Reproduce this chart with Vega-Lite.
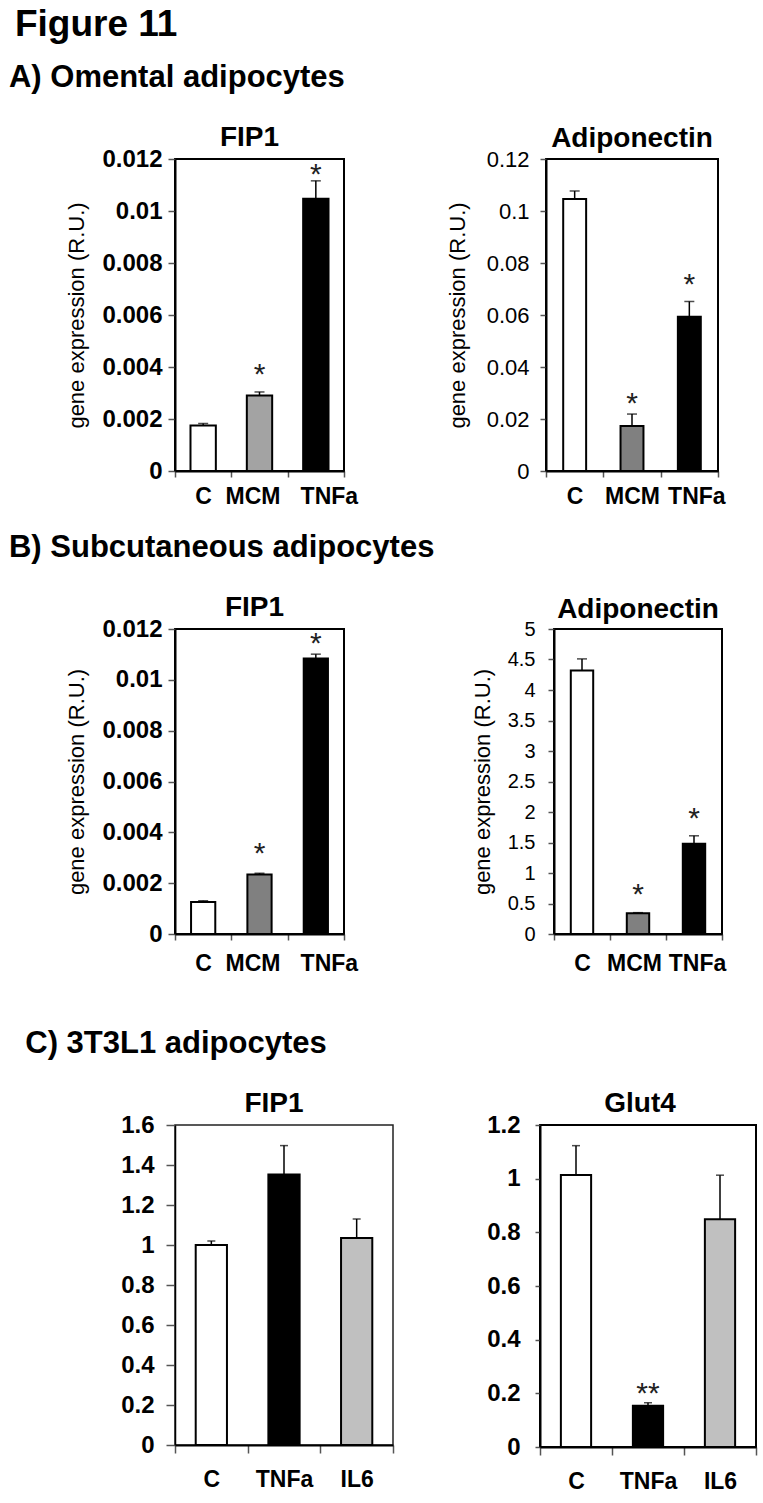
{
  "$schema": "https://vega.github.io/schema/vega-lite/v6.json",
  "padding": {"left": 8, "top": 6, "right": 4, "bottom": 2},
  "background": "white",
  "config": {
    "font": "Liberation Sans",
    "view": {"stroke": "black", "strokeWidth": 2},
    "axis": {"grid": false, "labelOverlap": false, "labelColor": "black", "titleColor": "black", "labelFont": "Liberation Sans", "titleFont": "Liberation Sans", "domainColor": "black", "domainWidth": 2, "tickColor": "#555", "tickWidth": 1.5},
    "axisQuantitative": {"labelOverlap": false},
    "axisX": {"labelAngle": 0, "tickBand": "extent", "labelFontSize": 23, "labelFontWeight": "bold", "tickSize": 6, "labelPadding": 8},
    "axisY": {"titleFontWeight": "normal", "titleFontSize": 22, "labelFontSize": 24, "labelOverlap": false}
  },
  "title": {"text": "Figure 11", "anchor": "start", "dx": 6, "fontSize": 37, "fontWeight": "bold", "offset": 18, "color": "black", "font": "Liberation Sans"},
  "datasets": {
    "a1": [
      {"group": "C", "value": 0.00175, "upper": 0.00183},
      {"group": "MCM", "value": 0.0029, "upper": 0.00304, "sig": "*", "star": 0.004},
      {"group": "TNFa", "value": 0.01047, "upper": 0.01116, "sig": "*", "star": 0.0117}
    ],
    "a2": [
      {"group": "C", "value": 0.1046, "upper": 0.1077},
      {"group": "MCM", "value": 0.0173, "upper": 0.0219, "sig": "*", "star": 0.029},
      {"group": "TNFa", "value": 0.0593, "upper": 0.0652, "sig": "*", "star": 0.0747}
    ],
    "b1": [
      {"group": "C", "value": 0.00126, "upper": 0.00131},
      {"group": "MCM", "value": 0.00234, "upper": 0.00239, "sig": "*", "star": 0.00348},
      {"group": "TNFa", "value": 0.01084, "upper": 0.01101, "sig": "*", "star": 0.01171}
    ],
    "b2": [
      {"group": "C", "value": 4.32, "upper": 4.51},
      {"group": "MCM", "value": 0.34, "upper": 0.35, "sig": "*", "star": 0.77},
      {"group": "TNFa", "value": 1.48, "upper": 1.61, "sig": "*", "star": 2.02}
    ],
    "c1": [
      {"group": "C", "value": 1.0, "upper": 1.02},
      {"group": "TNFa", "value": 1.352, "upper": 1.497},
      {"group": "IL6", "value": 1.035, "upper": 1.13}
    ],
    "c2": [
      {"group": "C", "value": 1.014, "upper": 1.123},
      {"group": "TNFa", "value": 0.154, "upper": 0.165, "sig": "**", "star": 0.227},
      {"group": "IL6", "value": 0.849, "upper": 1.013}
    ]
  },
  "resolve": {"scale": {"fill": "independent", "x": "independent", "y": "independent"}},
  "spacing": 52,
  "vconcat": [
    {
      "spacing": 23,
      "resolve": {"scale": {"fill": "independent", "x": "independent", "y": "independent"}},
      "vconcat": [
        {
          "title": {"text": "A) Omental adipocytes", "anchor": "start", "dx": -56, "fontSize": 31, "fontWeight": "bold", "offset": 29, "color": "black", "font": "Liberation Sans"},
          "spacing": 86,
          "resolve": {"scale": {"fill": "independent", "x": "independent", "y": "independent"}},
          "hconcat": [
            {
              "width": 169, "height": 312,
              "title": {"text": "FIP1", "fontSize": 28, "fontWeight": "bold", "offset": -5, "dx": -10, "color": "black"},
              "data": {"name": "a1"},
              "encoding": {"x": {"field": "group", "type": "nominal", "sort": null, "title": null, "scale": {"paddingInner": 0, "paddingOuter": 0},
                "axis": {"labelOffset": {"condition": [{"test": "datum.label == 'MCM'", "value": -7}, {"test": "datum.label == 'TNFa'", "value": 13}], "value": 0}}}},
              "layer": [
                {"mark": {"type": "bar", "width": {"band": 0.45}, "stroke": "black", "strokeWidth": 2},
                 "encoding": {
                   "y": {"field": "value", "type": "quantitative", "scale": {"domain": [0, 0.012], "nice": false}, "title": "gene expression (R.U.)",
                         "axis": {"values": [0, 0.002, 0.004, 0.006, 0.008, 0.01, 0.012], "format": ".3~f", "labelOverlap": false, "labelFontWeight": "bold", "tickSize": 7, "labelPadding": 6, "titlePadding": 13}},
                   "fill": {"field": "group", "type": "nominal", "legend": null, "scale": {"domain": ["C", "MCM", "TNFa"], "range": ["#ffffff", "#a3a3a3", "#000000"]}}}},
                {"mark": {"type": "rule", "color": "black", "strokeWidth": 1.5},
                 "encoding": {"y": {"field": "value", "type": "quantitative", "title": "gene expression (R.U.)", "axis": {"values": [0, 0.002, 0.004, 0.006, 0.008, 0.01, 0.012], "format": ".3~f", "labelOverlap": false, "labelFontWeight": "bold", "tickSize": 7, "labelPadding": 6, "titlePadding": 13}}, "y2": {"field": "upper"}}},
                {"mark": {"type": "tick", "color": "black", "size": 10, "thickness": 1.5},
                 "encoding": {"y": {"field": "upper", "type": "quantitative", "title": "gene expression (R.U.)", "axis": {"values": [0, 0.002, 0.004, 0.006, 0.008, 0.01, 0.012], "format": ".3~f", "labelOverlap": false, "labelFontWeight": "bold", "tickSize": 7, "labelPadding": 6, "titlePadding": 13}}}},
                {"transform": [{"filter": "isValid(datum.sig)"}],
                 "mark": {"type": "text", "fontSize": 30, "color": "#222", "baseline": "middle", "dy": 8},
                 "encoding": {"y": {"field": "star", "type": "quantitative", "title": "gene expression (R.U.)", "axis": {"values": [0, 0.002, 0.004, 0.006, 0.008, 0.01, 0.012], "format": ".3~f", "labelOverlap": false, "labelFontWeight": "bold", "tickSize": 7, "labelPadding": 6, "titlePadding": 13}}, "text": {"field": "sig"}}}
              ]
            },
            {
              "width": 172, "height": 312,
              "title": {"text": "Adiponectin", "fontSize": 28, "fontWeight": "bold", "offset": -5, "color": "black"},
              "data": {"name": "a2"},
              "encoding": {"x": {"field": "group", "type": "nominal", "sort": null, "title": null, "scale": {"paddingInner": 0, "paddingOuter": 0},
                "axis": {"labelOffset": {"condition": {"test": "datum.label == 'TNFa'", "value": 7}, "value": 0}}}},
              "layer": [
                {"mark": {"type": "bar", "width": {"band": 0.4}, "stroke": "black", "strokeWidth": 2},
                 "encoding": {
                   "y": {"field": "value", "type": "quantitative", "scale": {"domain": [0, 0.12], "nice": false}, "title": "gene expression (R.U.)",
                         "axis": {"values": [0, 0.02, 0.04, 0.06, 0.08, 0.1, 0.12], "format": ".2~f", "labelOverlap": false, "labelFontWeight": "normal", "labelFontSize": 22, "tickSize": 6, "labelPadding": 11, "titlePadding": 17}},
                   "fill": {"field": "group", "type": "nominal", "legend": null, "scale": {"domain": ["C", "MCM", "TNFa"], "range": ["#ffffff", "#808080", "#000000"]}}}},
                {"mark": {"type": "rule", "color": "black", "strokeWidth": 1.5},
                 "encoding": {"y": {"field": "value", "type": "quantitative", "title": "gene expression (R.U.)", "axis": {"values": [0, 0.02, 0.04, 0.06, 0.08, 0.1, 0.12], "format": ".2~f", "labelOverlap": false, "labelFontWeight": "normal", "labelFontSize": 22, "tickSize": 6, "labelPadding": 11, "titlePadding": 17}}, "y2": {"field": "upper"}}},
                {"mark": {"type": "tick", "color": "black", "size": 10, "thickness": 1.5},
                 "encoding": {"y": {"field": "upper", "type": "quantitative", "title": "gene expression (R.U.)", "axis": {"values": [0, 0.02, 0.04, 0.06, 0.08, 0.1, 0.12], "format": ".2~f", "labelOverlap": false, "labelFontWeight": "normal", "labelFontSize": 22, "tickSize": 6, "labelPadding": 11, "titlePadding": 17}}}},
                {"transform": [{"filter": "isValid(datum.sig)"}],
                 "mark": {"type": "text", "fontSize": 30, "color": "#222", "baseline": "middle", "dy": 8},
                 "encoding": {"y": {"field": "star", "type": "quantitative", "title": "gene expression (R.U.)", "axis": {"values": [0, 0.02, 0.04, 0.06, 0.08, 0.1, 0.12], "format": ".2~f", "labelOverlap": false, "labelFontWeight": "normal", "labelFontSize": 22, "tickSize": 6, "labelPadding": 11, "titlePadding": 17}}, "text": {"field": "sig"}}}
              ]
            }
          ]
        },
        {
          "title": {"text": "B) Subcutaneous adipocytes", "anchor": "start", "dx": -56, "fontSize": 31, "fontWeight": "bold", "offset": 29, "color": "black", "font": "Liberation Sans"},
          "spacing": 111,
          "resolve": {"scale": {"fill": "independent", "x": "independent", "y": "independent"}},
          "hconcat": [
            {
              "width": 169, "height": 305,
              "title": {"text": "FIP1", "fontSize": 28, "fontWeight": "bold", "offset": -5, "dx": -5, "color": "black"},
              "data": {"name": "b1"},
              "encoding": {"x": {"field": "group", "type": "nominal", "sort": null, "title": null, "scale": {"paddingInner": 0, "paddingOuter": 0},
                "axis": {"labelPadding": 12, "labelOffset": {"condition": [{"test": "datum.label == 'MCM'", "value": -7}, {"test": "datum.label == 'TNFa'", "value": 13}], "value": 0}}}},
              "layer": [
                {"mark": {"type": "bar", "width": {"band": 0.43}, "stroke": "black", "strokeWidth": 2},
                 "encoding": {
                   "y": {"field": "value", "type": "quantitative", "scale": {"domain": [0, 0.012], "nice": false}, "title": "gene expression (R.U.)",
                         "axis": {"values": [0, 0.002, 0.004, 0.006, 0.008, 0.01, 0.012], "format": ".3~f", "labelOverlap": false, "labelFontWeight": "bold", "tickSize": 7, "labelPadding": 6, "titlePadding": 13}},
                   "fill": {"field": "group", "type": "nominal", "legend": null, "scale": {"domain": ["C", "MCM", "TNFa"], "range": ["#ffffff", "#808080", "#000000"]}}}},
                {"mark": {"type": "rule", "color": "black", "strokeWidth": 1.5},
                 "encoding": {"y": {"field": "value", "type": "quantitative", "title": "gene expression (R.U.)", "axis": {"values": [0, 0.002, 0.004, 0.006, 0.008, 0.01, 0.012], "format": ".3~f", "labelOverlap": false, "labelFontWeight": "bold", "tickSize": 7, "labelPadding": 6, "titlePadding": 13}}, "y2": {"field": "upper"}}},
                {"mark": {"type": "tick", "color": "black", "size": 10, "thickness": 1.5},
                 "encoding": {"y": {"field": "upper", "type": "quantitative", "title": "gene expression (R.U.)", "axis": {"values": [0, 0.002, 0.004, 0.006, 0.008, 0.01, 0.012], "format": ".3~f", "labelOverlap": false, "labelFontWeight": "bold", "tickSize": 7, "labelPadding": 6, "titlePadding": 13}}}},
                {"transform": [{"filter": "isValid(datum.sig)"}],
                 "mark": {"type": "text", "fontSize": 30, "color": "#222", "baseline": "middle", "dy": 8},
                 "encoding": {"y": {"field": "star", "type": "quantitative", "title": "gene expression (R.U.)", "axis": {"values": [0, 0.002, 0.004, 0.006, 0.008, 0.01, 0.012], "format": ".3~f", "labelOverlap": false, "labelFontWeight": "bold", "tickSize": 7, "labelPadding": 6, "titlePadding": 13}}, "text": {"field": "sig"}}}
              ]
            },
            {
              "width": 168, "height": 305,
              "title": {"text": "Adiponectin", "fontSize": 28, "fontWeight": "bold", "offset": -5, "color": "black"},
              "data": {"name": "b2"},
              "encoding": {"x": {"field": "group", "type": "nominal", "sort": null, "title": null, "scale": {"paddingInner": 0, "paddingOuter": 0},
                "axis": {"labelPadding": 12, "labelOffset": {"condition": [{"test": "datum.label == 'MCM'", "value": -4}, {"test": "datum.label == 'TNFa'", "value": 3}], "value": 0}}}},
              "layer": [
                {"mark": {"type": "bar", "width": {"band": 0.4}, "stroke": "black", "strokeWidth": 2},
                 "encoding": {
                   "y": {"field": "value", "type": "quantitative", "scale": {"domain": [0, 5], "nice": false}, "title": "gene expression (R.U.)",
                         "axis": {"values": [0, 0.5, 1, 1.5, 2, 2.5, 3, 3.5, 4, 4.5, 5], "format": ".1~f", "labelOverlap": false, "labelFontWeight": "normal", "labelFontSize": 20, "tickSize": 6, "labelPadding": 13, "titlePadding": 13}},
                   "fill": {"field": "group", "type": "nominal", "legend": null, "scale": {"domain": ["C", "MCM", "TNFa"], "range": ["#ffffff", "#808080", "#000000"]}}}},
                {"mark": {"type": "rule", "color": "black", "strokeWidth": 1.5},
                 "encoding": {"y": {"field": "value", "type": "quantitative", "title": "gene expression (R.U.)", "axis": {"values": [0, 0.5, 1, 1.5, 2, 2.5, 3, 3.5, 4, 4.5, 5], "format": ".1~f", "labelOverlap": false, "labelFontWeight": "normal", "labelFontSize": 20, "tickSize": 6, "labelPadding": 13, "titlePadding": 13}}, "y2": {"field": "upper"}}},
                {"mark": {"type": "tick", "color": "black", "size": 10, "thickness": 1.5},
                 "encoding": {"y": {"field": "upper", "type": "quantitative", "title": "gene expression (R.U.)", "axis": {"values": [0, 0.5, 1, 1.5, 2, 2.5, 3, 3.5, 4, 4.5, 5], "format": ".1~f", "labelOverlap": false, "labelFontWeight": "normal", "labelFontSize": 20, "tickSize": 6, "labelPadding": 13, "titlePadding": 13}}}},
                {"transform": [{"filter": "isValid(datum.sig)"}],
                 "mark": {"type": "text", "fontSize": 30, "color": "#222", "baseline": "middle", "dy": 8},
                 "encoding": {"y": {"field": "star", "type": "quantitative", "title": "gene expression (R.U.)", "axis": {"values": [0, 0.5, 1, 1.5, 2, 2.5, 3, 3.5, 4, 4.5, 5], "format": ".1~f", "labelOverlap": false, "labelFontWeight": "normal", "labelFontSize": 20, "tickSize": 6, "labelPadding": 13, "titlePadding": 13}}, "text": {"field": "sig"}}}
              ]
            }
          ]
        }
      ]
    },
    {
      "title": {"text": "C) 3T3L1 adipocytes", "anchor": "start", "dx": -94.6, "fontSize": 31, "fontWeight": "bold", "offset": 29, "color": "black", "font": "Liberation Sans"},
      "spacing": 90,
      "resolve": {"scale": {"fill": "independent", "x": "independent", "y": "independent"}},
      "hconcat": [
        {
          "width": 218, "height": 320,
          "view": {"stroke": "#222", "strokeWidth": 1.5},
          "title": {"text": "FIP1", "fontSize": 28, "fontWeight": "bold", "offset": -5, "dx": -10, "color": "black"},
          "data": {"name": "c1"},
          "encoding": {"x": {"field": "group", "type": "nominal", "sort": null, "title": null, "scale": {"paddingInner": 0, "paddingOuter": 0}, "axis": {"labelPadding": 15, "tickSize": 8}}},
          "layer": [
            {"mark": {"type": "bar", "width": {"band": 0.43}, "stroke": "black", "strokeWidth": 2},
             "encoding": {
               "y": {"field": "value", "type": "quantitative", "scale": {"domain": [0, 1.6], "nice": false}, "title": null,
                     "axis": {"values": [0, 0.2, 0.4, 0.6, 0.8, 1, 1.2, 1.4, 1.6], "format": ".1~f", "labelOverlap": false, "labelFontWeight": "bold", "tickSize": 9, "labelPadding": 12, "domainWidth": 1.5}},
               "fill": {"field": "group", "type": "nominal", "legend": null, "scale": {"domain": ["C", "TNFa", "IL6"], "range": ["#ffffff", "#000000", "#c0c0c0"]}}}},
            {"mark": {"type": "rule", "color": "black", "strokeWidth": 1.5},
             "encoding": {"y": {"field": "value", "type": "quantitative", "title": null, "axis": {"values": [0, 0.2, 0.4, 0.6, 0.8, 1, 1.2, 1.4, 1.6], "format": ".1~f", "labelOverlap": false, "labelFontWeight": "bold", "tickSize": 9, "labelPadding": 12, "domainWidth": 1.5}}, "y2": {"field": "upper"}}},
            {"mark": {"type": "tick", "color": "black", "size": 8, "thickness": 1.5},
             "encoding": {"y": {"field": "upper", "type": "quantitative", "title": null, "axis": {"values": [0, 0.2, 0.4, 0.6, 0.8, 1, 1.2, 1.4, 1.6], "format": ".1~f", "labelOverlap": false, "labelFontWeight": "bold", "tickSize": 9, "labelPadding": 12, "domainWidth": 1.5}}}}
          ]
        },
        {
          "width": 216, "height": 322,
          "title": {"text": "Glut4", "fontSize": 28, "fontWeight": "bold", "offset": -5, "dx": -8, "color": "black"},
          "data": {"name": "c2"},
          "encoding": {"x": {"field": "group", "type": "nominal", "sort": null, "title": null, "scale": {"paddingInner": 0, "paddingOuter": 0}, "axis": {"labelPadding": 15, "tickSize": 8}}},
          "layer": [
            {"mark": {"type": "bar", "width": {"band": 0.42}, "stroke": "black", "strokeWidth": 2},
             "encoding": {
               "y": {"field": "value", "type": "quantitative", "scale": {"domain": [0, 1.2], "nice": false}, "title": null,
                     "axis": {"values": [0, 0.2, 0.4, 0.6, 0.8, 1, 1.2], "format": ".1~f", "labelOverlap": false, "labelFontWeight": "bold", "tickSize": 5, "labelPadding": 15}},
               "fill": {"field": "group", "type": "nominal", "legend": null, "scale": {"domain": ["C", "TNFa", "IL6"], "range": ["#ffffff", "#000000", "#c0c0c0"]}}}},
            {"mark": {"type": "rule", "color": "black", "strokeWidth": 1.5},
             "encoding": {"y": {"field": "value", "type": "quantitative", "title": null, "axis": {"values": [0, 0.2, 0.4, 0.6, 0.8, 1, 1.2], "format": ".1~f", "labelOverlap": false, "labelFontWeight": "bold", "tickSize": 5, "labelPadding": 15}}, "y2": {"field": "upper"}}},
            {"mark": {"type": "tick", "color": "black", "size": 8, "thickness": 1.5},
             "encoding": {"y": {"field": "upper", "type": "quantitative", "title": null, "axis": {"values": [0, 0.2, 0.4, 0.6, 0.8, 1, 1.2], "format": ".1~f", "labelOverlap": false, "labelFontWeight": "bold", "tickSize": 5, "labelPadding": 15}}}},
            {"transform": [{"filter": "isValid(datum.sig)"}],
             "mark": {"type": "text", "fontSize": 30, "color": "#222", "baseline": "middle", "dy": 8},
             "encoding": {"y": {"field": "star", "type": "quantitative", "title": null, "axis": {"values": [0, 0.2, 0.4, 0.6, 0.8, 1, 1.2], "format": ".1~f", "labelOverlap": false, "labelFontWeight": "bold", "tickSize": 5, "labelPadding": 15}}, "text": {"field": "sig"}}}
          ]
        }
      ]
    }
  ]
}
